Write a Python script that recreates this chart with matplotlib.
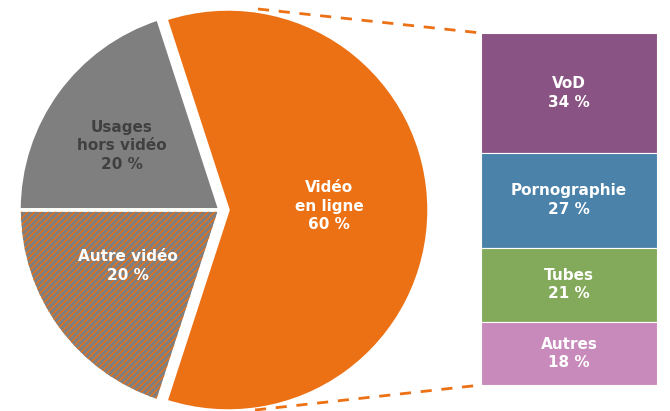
import matplotlib.pyplot as plt
from matplotlib.patches import Wedge

# pie data
pie_labels = ['Vidéo\nen ligne', 'Usages\nhors vidéo', 'Autre vidéo']
pie_values = [60, 20, 20]
pie_colors = ['#EC7014', '#7F7F7F', '#7F7F7F']
pie_text_colors = ['white', '#404040', 'white']

# breakdown of online video
bar_labels = ['VoD', 'Pornographie', 'Tubes', 'Autres']
bar_values = [34, 27, 21, 18]
bar_colors = ['#895383', '#4A82AA', '#82AA5A', '#C889BB']

orange = '#EC7014'
W, H = 670, 411

fig = plt.figure(figsize=(6.7, 4.11), dpi=100)
ax = fig.add_axes([0, 0, 1, 1])

cx, cy, r = 220, H - 210, 201
# explode is in data units (pixels here)
wedges, _ = ax.pie(pie_values, colors=pie_colors, startangle=-108,
                   center=(cx, cy), radius=r, explode=[8, 0, 0],
                   wedgeprops=dict(edgecolor='white', linewidth=2.5))

# hatched overlay for "Autre vidéo"
w = wedges[2]
plt.rcParams['hatch.linewidth'] = 1.0
hatch = Wedge(w.center, w.r, w.theta1, w.theta2, facecolor='none',
              edgecolor=orange, linewidth=0, hatch='/////')
ax.add_patch(hatch)
ax.add_patch(Wedge(w.center, w.r, w.theta1, w.theta2, facecolor='none',
                   edgecolor='white', linewidth=2.5))

ax.set_xlim(0, W)
ax.set_ylim(0, H)
ax.set_aspect('auto')
ax.axis('off')

# pie labels
label_pos = [(329, 206), (122, 146), (128, 266)]
for lab, v, c, (x, y) in zip(pie_labels, pie_values, pie_text_colors, label_pos):
    ax.text(x, H - y, f'{lab}\n{v} %', ha='center', va='center', color=c,
            fontsize=11, fontweight='bold', linespacing=1.3)

# connector lines
ax.plot([258, 481], [H - 9, H - 33], ls=(0, (4, 3.5)), color=orange, lw=2)
ax.plot([255, 481], [H - 410, H - 385], ls=(0, (4, 3.5)), color=orange, lw=2)

# stacked bar
bx = fig.add_axes([481 / W, (H - 385) / H, 176 / W, 352 / H])
bottom = 0
for lab, v, c in zip(bar_labels, bar_values, bar_colors):
    bx.bar(0, v, bottom=bottom, width=1, color=c, edgecolor='white', linewidth=0.8)
    bx.text(0, bottom + v / 2, f'{lab}\n{v} %', ha='center', va='center',
            color='white', fontsize=11, fontweight='bold', linespacing=1.3)
    bottom += v
bx.set_xlim(-0.5, 0.5)
bx.set_ylim(100, 0)
bx.axis('off')

fig.savefig('out.png', dpi=100)
